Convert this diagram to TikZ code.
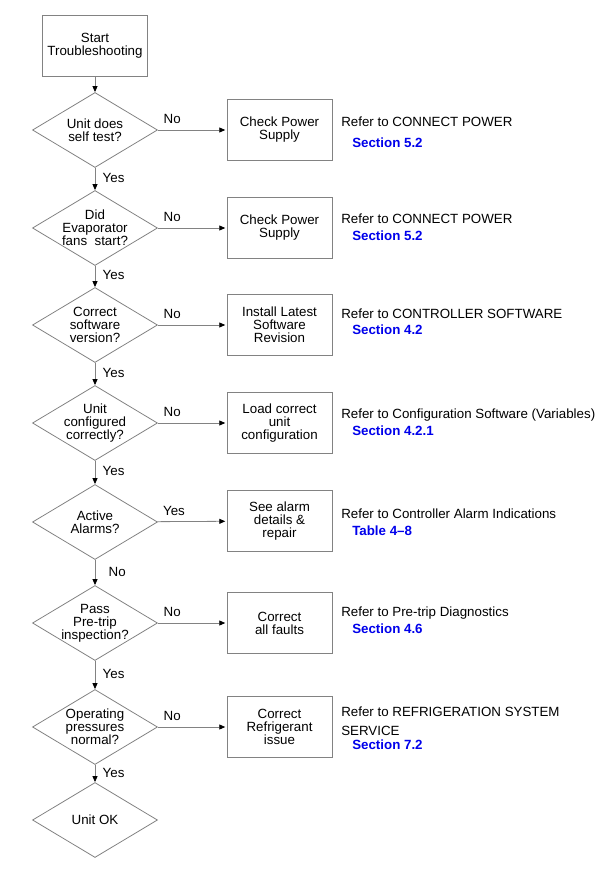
\documentclass[tikz,border=0pt]{standalone}
\usepackage{fontspec}
\setmainfont{Liberation Sans}
\usetikzlibrary{shapes.geometric,arrows.meta}
\definecolor{linegray}{RGB}{130,130,130}
\definecolor{secblue}{RGB}{0,0,235}
\begin{document}
\begin{tikzpicture}[x=0.75pt,y=-0.75pt,
every node/.style={font=\fontsize{10}{9.75}\selectfont},
stepbox/.style={rectangle, draw=linegray, line width=0.6pt, minimum width=78.75pt, minimum height=45.75pt, inner sep=2pt, align=center},
ask/.style={diamond, draw=linegray, line width=0.6pt, aspect=1.667, minimum width=93.75pt, minimum height=56.25pt, inner xsep=-4pt, inner ysep=0pt, align=center},
conn/.style={draw=linegray, line width=0.6pt, -{Triangle[length=4.5pt,width=3.75pt,color=black]}},
lbl/.style={inner sep=1pt},
reftxt/.style={anchor=base west, inner sep=0pt},
sectxt/.style={anchor=base west, inner sep=0pt, text=secblue, font=\fontsize{10}{9.75}\selectfont\bfseries}]
\useasboundingbox (0,0) rectangle (616,881);
\node[stepbox] (st) at (95,45.5){Start\\Troubleshooting};
\node[ask] (q1) at (95,130){Unit does\\self test?};
\node[ask] (q2) at (95,228){Did\\Evaporator\\fans\ \ start?};
\node[ask] (q3) at (95,325){Correct\\software\\version?};
\node[ask] (q4) at (95,423){Unit\\configured\\correctly?};
\node[ask] (q5) at (95,522){Active\\Alarms?};
\node[ask] (q6) at (95,623){Pass\\Pre-trip\\inspection?};
\node[ask] (q7) at (95,727){Operating\\pressures\\normal?};
\node[ask] (q8) at (95,820){Unit OK};
\node[stepbox] (b1) at (279.5,130){Check Power\\Supply};
\node[stepbox] (b2) at (279.5,228){Check Power\\Supply};
\node[stepbox] (b3) at (279.5,325){Install Latest\\Software\\Revision};
\node[stepbox] (b4) at (279.5,423){Load correct\\unit\\configuration};
\node[stepbox] (b5) at (279.5,521){See alarm\\details \&\\repair};
\node[stepbox] (b6) at (279.5,623){Correct\\all faults};
\node[stepbox] (b7) at (279.5,727){Correct\\Refrigerant\\issue};
\node[reftxt] (ref1) at (341,126){Refer to CONNECT POWER};
\node[sectxt] (sec1) at (352,147){Section 5.2};
\node[reftxt] (ref2) at (341,223){Refer to CONNECT POWER};
\node[sectxt] (sec2) at (352,240){Section 5.2};
\node[reftxt] (ref3) at (341,318){Refer to CONTROLLER SOFTWARE};
\node[sectxt] (sec3) at (352,334){Section 4.2};
\node[reftxt] (ref4) at (341,418){Refer to Configuration Software (Variables)};
\node[sectxt] (sec4) at (352,435){Section 4.2.1};
\node[reftxt] (ref5) at (341,518){Refer to Controller Alarm Indications};
\node[sectxt] (sec5) at (352,535){Table 4--8};
\node[reftxt] (ref6) at (341,616){Refer to Pre-trip Diagnostics};
\node[sectxt] (sec6) at (352,633){Section 4.6};
\node[reftxt] (ref7) at (341,716){Refer to REFRIGERATION SYSTEM};
\node[reftxt] (ref7b) at (341,735){SERVICE};
\node[sectxt] (sec7) at (352,749){Section 7.2};
\draw[conn](st) -- (q1);
\draw[conn](q1) -- node[lbl, right=4.5pt, pos=0.45]{Yes} (q2);
\draw[conn](q2) -- node[lbl, right=4.5pt, pos=0.45]{Yes} (q3);
\draw[conn](q3) -- node[lbl, right=4.5pt, pos=0.45]{Yes} (q4);
\draw[conn](q4) -- node[lbl, right=4.5pt, pos=0.45]{Yes} (q5);
\draw[conn](q5) -- node[lbl, right=9pt, pos=0.48]{No} (q6);
\draw[conn](q6) -- node[lbl, right=4.5pt, pos=0.45]{Yes} (q7);
\draw[conn](q7) -- node[lbl, right=4.5pt, pos=0.45]{Yes} (q8);
\draw[conn, shorten >=1pt](q1) -- node[lbl, pos=0, anchor=south west, xshift=3pt, yshift=3.5pt]{No} (b1);
\draw[conn, shorten >=1pt](q2) -- node[lbl, pos=0, anchor=south west, xshift=3pt, yshift=3.5pt]{No} (b2);
\draw[conn, shorten >=1pt](q3) -- node[lbl, pos=0, anchor=south west, xshift=3pt, yshift=3.5pt]{No} (b3);
\draw[conn, shorten >=1pt](q4) -- node[lbl, pos=0, anchor=south west, xshift=3pt, yshift=3.5pt]{No} (b4);
\draw[conn, shorten >=1pt](q5) -- node[lbl, pos=0, anchor=south west, xshift=3pt, yshift=3.5pt]{Yes} (b5);
\draw[conn, shorten >=1pt](q6) -- node[lbl, pos=0, anchor=south west, xshift=3pt, yshift=3.5pt]{No} (b6);
\draw[conn, shorten >=1pt](q7) -- node[lbl, pos=0, anchor=south west, xshift=3pt, yshift=3.5pt]{No} (b7);
\end{tikzpicture}
\end{document}
